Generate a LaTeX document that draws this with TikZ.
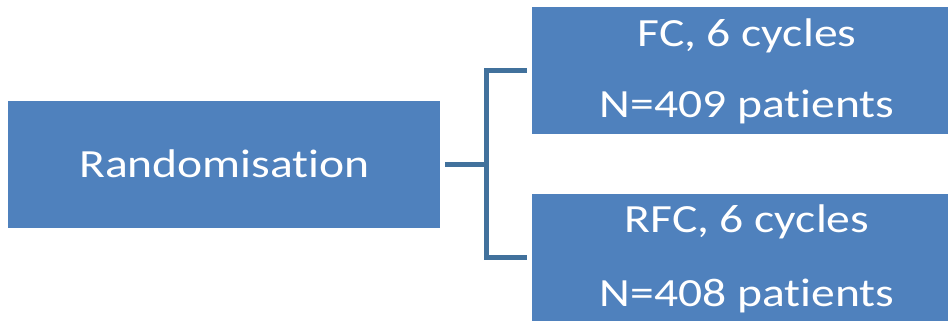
\documentclass[tikz,border=0pt]{standalone}
\usepackage{fontspec}
\setmainfont{Carlito}
\newfontfamily\lblfont[FakeStretch=1.19,Ligatures=NoCommon]{Carlito}
\definecolor{boxblue}{HTML}{4F81BD}
\definecolor{lineblue}{HTML}{41719C}
\begin{document}
\begin{tikzpicture}[x=1pt,y=-1pt,
  box/.style={fill=boxblue,draw=none,inner sep=0pt,minimum width=#1},
  box/.default=416pt,
  lbl/.style={text=white,anchor=base,inner sep=0pt,font=\lblfont\fontsize{40}{48}\selectfont},
  conn/.style={draw=lineblue,line width=5pt}]
\useasboundingbox (0,0) rectangle (948,321);
\clip (0,0) rectangle (948,321);
\node[box=432pt,minimum height=127pt] (L) at (224,164.5) {};
\node[box=430pt,minimum height=127pt] (T) at (747,70.5) {};
\node[box=430pt,minimum height=127pt] (B) at (747,257.5) {};
\node[lbl] (l1) at (224.5,177) {Randomisation};
\node[lbl] (t1) at (747,46.5) {FC, 6 cycles};
\node[lbl] (t2) at (747,117.5) {N=409 patients};
\node[lbl] (b1) at (747,232) {RFC, 6 cycles};
\node[lbl] (b2) at (747,306) {N=408 patients};
\coordinate (j) at (486,164.5);
\draw[conn] ([xshift=5pt]L.east) -- (j);
\draw[conn] ([xshift=-5pt]T.west) -| (j) |- ([xshift=-5pt]B.west);
\end{tikzpicture}
\end{document}
